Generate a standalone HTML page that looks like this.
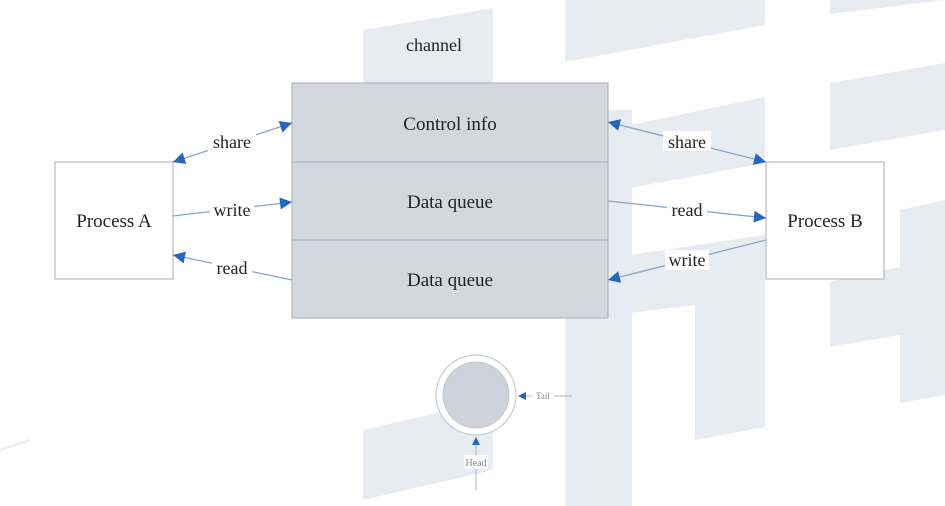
<!DOCTYPE html>
<html><head><meta charset="utf-8"><style>
html,body{margin:0;padding:0;background:#fff;}
svg{display:block;}
text{font-family:"Liberation Serif",serif;fill:#222;}
</style></head><body>
<svg width="945" height="506" viewBox="0 0 945 506" xmlns="http://www.w3.org/2000/svg">
<defs>
<marker id="ah" viewBox="0 0 10 10" refX="10" refY="5" markerWidth="18" markerHeight="12" markerUnits="userSpaceOnUse" orient="auto-start-reverse">
<path d="M0,0 L10,5 L0,10 z" fill="#2466c0"/>
</marker>
<marker id="sh" viewBox="0 0 10 10" refX="10" refY="5" markerWidth="10" markerHeight="8" markerUnits="userSpaceOnUse" orient="auto">
<path d="M0,0 L10,5 L0,10 z" fill="#2466c0"/>
</marker>
</defs>
<g fill="#e7ecf3">
<polygon points="363,30 493,8 493,90 363,90"/>
<polygon points="565,0 765,0 765,25 565,62"/>
<polygon points="830,14 945,0 945,0 830,0"/>
<polygon points="830,83 945,63 945,130 830,150"/>
<polygon points="565,110 632,110 632,506 565,506"/>
<polygon points="630,125 765,97 765,163 630,188"/>
<polygon points="630,255 765,235 765,427 695,440 695,305 630,313"/>
<polygon points="830,282 900,267 900,335 830,347"/>
<polygon points="900,210 945,200 945,395 900,403"/>
<polygon points="363,430 493,400 493,470 363,500"/>
</g>
<line x1="0" y1="450" x2="30" y2="440" stroke="#e7ecf3" stroke-width="2"/>
<rect x="292" y="83" width="316" height="235" fill="#d3d8df" stroke="#a8adb4" stroke-width="1"/>
<line x1="292" y1="162" x2="608" y2="162" stroke="#a8adb4"/>
<line x1="292" y1="240" x2="608" y2="240" stroke="#a8adb4"/>
<text x="450" y="130" font-size="19" text-anchor="middle">Control info</text>
<text x="450" y="208" font-size="19" text-anchor="middle">Data queue</text>
<text x="450" y="286" font-size="19" text-anchor="middle">Data queue</text>
<text x="434" y="51" font-size="18" text-anchor="middle">channel</text>
<rect x="55" y="162" width="118" height="117" fill="#fff" stroke="#a8adb4"/>
<text x="114" y="227" font-size="19" text-anchor="middle">Process A</text>
<rect x="766" y="162" width="118" height="117" fill="#fff" stroke="#a8adb4"/>
<text x="825" y="227" font-size="19" text-anchor="middle">Process B</text>
<g stroke="#8aa3c0" stroke-width="1.3" fill="none">
<line x1="173" y1="162" x2="292" y2="123" marker-start="url(#ah)" marker-end="url(#ah)"/>
<line x1="173" y1="216" x2="292" y2="202" marker-end="url(#ah)"/>
<line x1="292" y1="280" x2="173" y2="255" marker-end="url(#ah)"/>
<line x1="608" y1="122" x2="766" y2="162" marker-start="url(#ah)" marker-end="url(#ah)"/>
<line x1="608" y1="201" x2="766" y2="218" marker-end="url(#ah)"/>
<line x1="766" y1="240" x2="608" y2="280" marker-end="url(#ah)"/>
</g>
<g font-size="18" text-anchor="middle">
<rect x="208" y="131" width="48" height="20" fill="#fff"/><text x="232" y="148">share</text>
<rect x="210" y="200" width="44" height="20" fill="#fff"/><text x="232" y="216">write</text>
<rect x="212" y="258" width="40" height="20" fill="#fff"/><text x="232" y="274">read</text>
<rect x="663" y="131" width="48" height="20" fill="#fff"/><text x="687" y="148">share</text>
<rect x="667" y="200" width="40" height="20" fill="#fff"/><text x="687" y="216">read</text>
<rect x="665" y="250" width="44" height="20" fill="#fff"/><text x="687" y="266">write</text>
</g>
<circle cx="476" cy="395" r="40" fill="#fff" stroke="#c8ccd2" stroke-width="1.2"/>
<circle cx="476" cy="395" r="33" fill="#ced3db" stroke="#bfc4cb" stroke-width="0.8"/>
<g stroke="#b0b6be" stroke-width="1">
<line x1="476" y1="490" x2="476" y2="437" marker-end="url(#sh)"/>
<line x1="572" y1="396" x2="518" y2="396" marker-end="url(#sh)"/>
</g>
<rect x="464" y="455" width="24" height="14" fill="#fff"/>
<text x="476" y="466" font-size="10" text-anchor="middle" style="fill:#888">Head</text>
<rect x="532" y="390" width="22" height="12" fill="#fff"/>
<text x="543" y="399" font-size="9" text-anchor="middle" style="fill:#888">Tail</text>
</svg>
</body></html>
